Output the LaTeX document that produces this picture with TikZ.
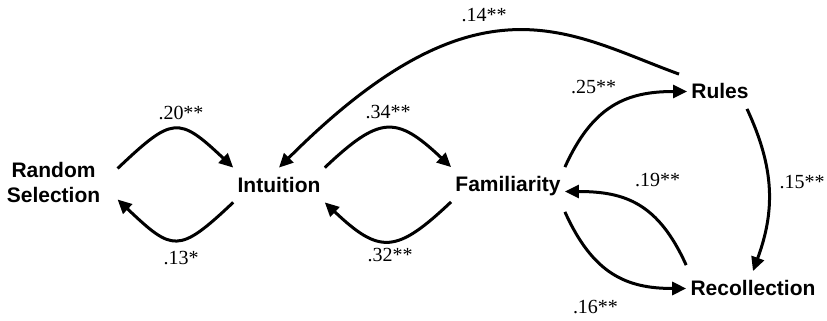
\documentclass[tikz,border=0pt]{standalone}
\usepackage{fontspec}
\setmainfont{Liberation Serif}
\setsansfont{Liberation Sans}
\usetikzlibrary{arrows.meta}
\tikzset{
  box/.style={font=\sffamily\bfseries\fontsize{10.5}{12.5}\selectfont, inner xsep=2pt, inner ysep=4.75pt},
  var/.style={box, text height=7.5pt, text depth=0pt},
  wt/.style={font=\fontsize{10}{12}\selectfont, inner sep=0pt},
  link/.style={line width=1.5pt, -{Triangle[length=7pt,width=6.5pt]}}
}
\begin{document}
\begin{tikzpicture}[x=0.5pt,y=0.5pt]
\useasboundingbox (0,0) rectangle (827,321);
\node[box, align=center, inner xsep=8.5pt] (rs) at (53.5,138.5) {Random\\Selection};
\node[var] (int) at (279,136) {Intuition};
\node[var] (fam) at (508,136.5) {Familiarity};
\node[var] (rul) at (720,229.5) {Rules};
\node[var] (rec) at (753,32.5) {Recollection};

\draw[link] ([yshift=7pt]rs.east) .. controls +(55,52) and +(-55,52) .. (int.north west);
\draw[link] (int.south west) .. controls +(-55,-52) and +(55,-52) .. ([yshift=-8.5pt]rs.east);
\draw[link] (int.north east) .. controls +(55,52) and +(-55,52) .. (fam.north west);
\draw[link] (fam.south west) .. controls +(-55,-52) and +(55,-52) .. (int.south east);
\draw[link] (fam.north east) .. controls +(28,62) and +(-60,0) .. (rul.west);
\draw[link] ([yshift=3pt]rec.north west) .. controls +(-28,62) and +(60,0) .. ([yshift=-3.5pt]fam.east);
\draw[link] ([yshift=-5pt]fam.south east) .. controls +(28,-62) and +(-60,0) .. (rec.west);
\draw[link] ([xshift=-3pt]rul.south east) .. controls +(28,-60) and +(22,60) .. (rec.north);
\draw[link] ([xshift=-4pt]rul.north west) .. controls +(-110,40) and +(200,200) .. (int.north);

\node[wt] (w20) at (181,208) {.20**};
\node[wt] (w13) at (181,63) {.13*};
\node[wt] (w34) at (388,209) {.34**};
\node[wt] (w32) at (390,65.5) {.32**};
\node[wt] (w14) at (484,305.5) {.14**};
\node[wt] (w25) at (593.5,233.5) {.25**};
\node[wt] (w19) at (657.5,141) {.19**};
\node[wt] (w16) at (595.5,13.5) {.16**};
\node[wt] (w15) at (802,138.5) {.15**};
\end{tikzpicture}
\end{document}
